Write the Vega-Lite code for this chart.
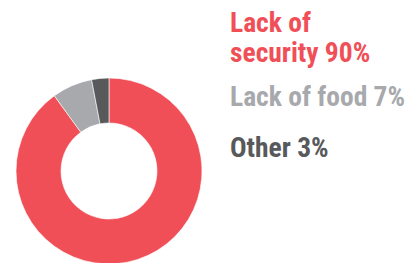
{
  "$schema": "https://vega.github.io/schema/vega-lite/v6.json",
  "width": 414,
  "height": 263,
  "autosize": {"type": "none"},
  "padding": 0,
  "background": "white",
  "config": {"view": {"stroke": null}},
  "data": {
    "values": [
      {"category": "Lack of security", "label": "Lack of\nsecurity 90%", "value": 90, "order": 1},
      {"category": "Lack of food", "label": "Lack of food 7%", "value": 7, "order": 2},
      {"category": "Other", "label": "Other 3%", "value": 3, "order": 3}
    ]
  },
  "layer": [
    {
      "mark": {"type": "arc", "outerRadius": 93, "innerRadius": 48, "stroke": "white", "strokeWidth": 0.6},
      "encoding": {
        "x": {"datum": 0, "type": "quantitative", "scale": {"domain": [-0.9008, 2.5207], "nice": false, "zero": false}, "axis": null},
        "y": {"datum": 3.437, "type": "quantitative", "scale": {"domain": [0.0843, 5.241], "nice": false, "zero": false, "reverse": true}, "axis": null},
        "theta": {"field": "value", "type": "quantitative", "stack": true},
        "order": {"field": "order", "type": "quantitative"},
        "color": {
          "field": "category", "type": "nominal",
          "scale": {"domain": ["Lack of security", "Lack of food", "Other"], "range": ["#F04F58", "#A7A9AC", "#58595B"]},
          "legend": null
        }
      }
    },
    {
      "transform": [{"filter": "datum.order == 1"}],
      "mark": {"type": "text", "align": "left", "baseline": "middle", "dy": -23, "lineBreak": "\n", "lineHeight": 30, "font": "Liberation Sans Narrow, Roboto Condensed, Liberation Sans", "fontWeight": "bold", "fontSize": 27.5},
      "encoding": {
        "text": {"field": "label"},
        "color": {"field": "category", "type": "nominal", "legend": null},
        "x": {"datum": 1, "type": "quantitative"},
        "y": {"field": "order", "type": "quantitative"}
      }
    },
    {
      "transform": [{"filter": "datum.order > 1"}],
      "mark": {"type": "text", "align": "left", "baseline": "middle", "lineBreak": "\n", "lineHeight": 30, "font": "Liberation Sans Narrow, Roboto Condensed, Liberation Sans", "fontWeight": "bold", "fontSize": 27.5},
      "encoding": {
        "text": {"field": "label"},
        "color": {"field": "category", "type": "nominal", "legend": null},
        "x": {"datum": 1, "type": "quantitative"},
        "y": {"field": "order", "type": "quantitative"}
      }
    }
  ]
}
